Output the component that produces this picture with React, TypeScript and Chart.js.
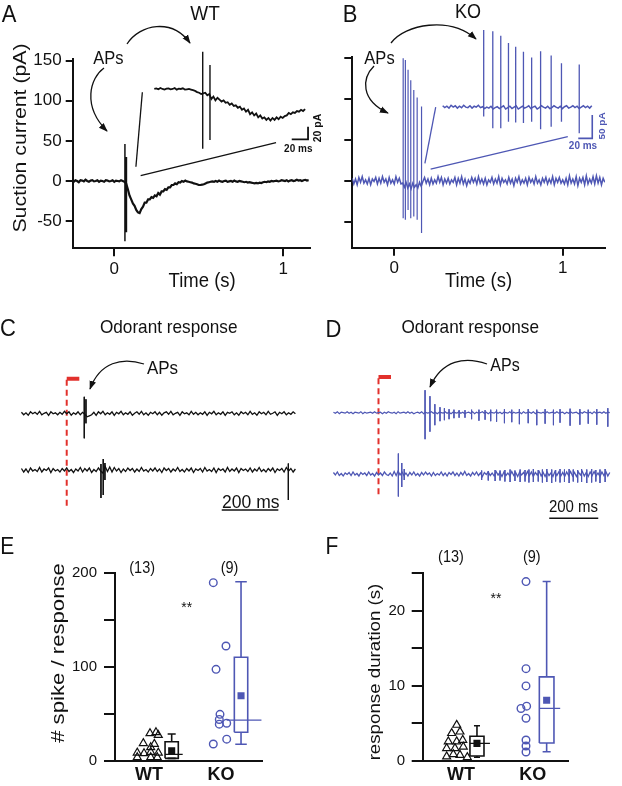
import React, { useEffect, useRef } from 'react';
import { Chart, registerables } from 'chart.js';

Chart.register(...registerables);

const FONT = '"Liberation Sans", Arial, Helvetica, sans-serif';
Chart.defaults.font.family = FONT;
Chart.defaults.color = '#111111';

const INK = '#111111';
const BLUE = '#4e57b4';
const RED = '#e2312c';

// ================= Panel A : WT suction current =================
const aT0 = -0.25;
const aDt = 0.01; // s
const aTrace = [
  0.5, -1, 1, 0, -1.5, 1, 0.5, -0.5, 1.5, 0, -1, 0.5, 1, -0.5, 0, 1, -1, 0.5, 0, -1, 1, 0.5, -0.5, 0, 1, -1, 0.5, 0, -0.5, 1, 0,
  -1, -3, -10, -18, -23, -28, -31, -36, -39, -40, -35, -32, -27, -27, -23, -23, -20, -21, -18, -19,
  -15, -17, -13, -13, -10, -11, -8, -8, -5, -5, -3, -4, -1.5, -2, 0, -1, 0.5, -0.5, -1, -1.5,
  -2, -3, -3.5, -4, -5, -5, -4.5, -4, -3, -2, -1.5, -1, -0.5, -1,
  0, -1, 0.5, -0.5, -1, 0, 0.5, -1, -0.5, 0, -1, 0.5, -0.5, -1, 0, -0.5, -1, -1.5, -1, -2, -1.5,
  -2, -2.5, -3, -2.5, -3, -2, -2.5, -1.5, -1, -1.5, -0.5, -1, 0, -0.5, 0,
  0.5, -0.5, 0, 1, 0.5, 0, 1, -0.5, 0.5, 1, 0, 0.5, 1.5, 0.5, 1, 0, 1, 1.5, 0.5, 1,
];
const aSpikeT = [0.063, 0.072];
const aSpikeUp = [46, 30];
const aSpikeDown = [-75, -64];
const aXTicks = [0, 1];
const aYTicks = [-50, 0, 50, 100, 150];

// inset (ms, pA)
const aInT0 = 0;
const aInDt = 2.5;
const aInset = [
  0, 1, -0.5, 1.5, 0, -1, 0.5, 1, -0.5, 0, 1.5, -1, 0.5, 0, 1, -1, -0.5, 0, -1,
  -2, -3, -5, -6, -8,
  -7, -6, -10, -8, -16, -12, -18, -14, -17,
  -20, -18, -22, -21, -25, -23, -27, -26,
  -30, -28, -33, -31, -36, -33, -40, -37,
  -42, -39, -45, -42, -47, -45, -49, -46,
  -50, -46, -49, -45, -48, -44, -46, -43,
  -42, -38, -40, -37, -38, -35, -36, -33, -35, -32,
];
const aInSpikeT = [59.4, 68.3];
const aInSpikeUp = [59, 38];
const aInSpikeDown = [-95, -81];
const aScaleBarT = [168.6, 188.6, 188.6];
const aScaleBarV = [-80, -80, -60];
const aZoomLine1T = [0.166, 0.128];
const aZoomLine1V = [110.6, 17.8];
const aZoomLine2T = [0.156, 0.957];
const aZoomLine2V = [6.6, 47.8];

// ================= Panel B : KO suction current =================
const bT0 = -0.25;
const bDt = 0.01;
const bTrace = [
  3, -4, 2, -5, 4, -2, 5, -3, 1, -4, 3, -5, 2, -1, 4, -4, 3, -3, 5, -2,
  2, -5, 4, -3, 1, -4, 5, -2, 3, -4,
  -3, -8, -2, -9, -4, -10, -3, -8, -5, -9, -2, -7, -1,
  4, -3, 2, -5, 3, -4, 1, -3, 5, -2, 4, -5, 2, -3, 3, -4, 1, -2, 4, -5,
  3, -3, 5, -4, 2, -6, 1, -3, 4, -2, 3, -4, 5, -3, 2, -4, 3, -5, 1, -2,
  4, -4, 2, -3, 5, -5, 3, -2, 1, -4, 4, -3, 2, -6, 3, -2, 5, -4, 1, -3,
  3, -5, 4, -2, 2, -4, 5, -3, 1, -5, 3, -2, 4, -4, 2, -3, 5, -5, 3, -2,
  4, -3, 1, -4, 3, -5, 6, -3, 2, -4, 5, -6, 3, -2, 4, -5, 6, -4, 2, -3,
  5, -4, 6, -3, 4, -5, 3, -2,
];
const bSpikeT = [0.053, 0.066, 0.082, 0.098, 0.116, 0.136, 0.162];
const bSpikeUp = [150, 148, 136, 123, 111, 102, 91];
const bSpikeDown = [-46, -48, -36, -46, -44, -48, -64];
const bXTicks = [0, 1];
const bYTicks = [-50, 0, 50, 100, 150];

const bInT0 = 0;
const bInDt = 3;
const bInset = [
  2, -2, 1, -3, 3, -1, 2, -3, 1, -2, 3, -1, -2, 2, -3, 1, -1, 3, -2, 0,
  -4, -1, -3, 1, -5, -2, 0, -4, -1, 2,
  -5, -2, 1, -4, -1, 2, -5, -2, 1, -3,
  -1, 2, -4, -1, 1, -5, -2, 2, -1, -3,
  1, -4, -2, 2, -1, -3, 1, -4, 0, 2,
  -3, -1, 2, -2, 1, -4, -1, 2, -2, 1, -3, 2,
];
const bInSpikeT = [58.6, 71.6, 83, 94, 104.3, 115.4, 127.1, 139.9, 155, 169.7, 195.1];
const bInSpikeUp = [164, 161.5, 151.8, 136.4, 128.5, 117.8, 105.4, 118.8, 109.6, 92.9, 90.4];
const bInSpikeDown = [-21, -46, -46, -32, -34, -35, -32, -48, -43, -32, -57];
const bScaleBarT = [193.7, 213.7, 213.7];
const bScaleBarV = [-67.7, -67.7, -17.7];
const bZoomLine1T = [0.246, 0.182];
const bZoomLine1V = [90, 21.3];
const bZoomLine2T = [0.216, 1.03];
const bZoomLine2V = [14.3, 53.9];

// ================= Panel C : WT odorant responses (ms, a.u.) =================
const cT0 = -160;
const cDt = 8;
const cTrace1 = [
  2, -3, 1, -4, 3, -1, 2, -2, 4, -3, 0, 2, -4, 3, -1, 1, -3, 2, -2, 4,
  -1, 3, -4, 1, -2, 3, -3, 2, -2, -7, -5, -3, 2, -4, 3, -1, 4, -3, 1, -2,
  3, -4, 2, -1, 4, -3, 1, -2, 3, -4, 0, 3, -2, 4, -3, 1, -4, 2, -1, 3,
  -3, 2, -4, 1, 3, -2, 4, -3, 0, 2, -4, 3, -1, 1, -3, 4, -2, 2, -3, 1,
  -2, 3, -4, 2, -1, 4, -3, 1, -2, 3, -4, 2, 0, 3, -3, 1, -4, 3, -1, 2,
  -3, 4, -2, 1, -4, 3, -1, 2, -3, 4, -2, 0, 3, -4, 2, -1, 3, -3, 1, -2, 3, -1,
];
const cTrace2 = [
  3, -4, 2, -5, 4, -2, 1, -3, 5, -4, 2, -1, 4, -5, 3, -2, 1, -4, 3, -2,
  4, -3, 1, -5, 2, -2, 5, -4, 3, -2, 4, -5, 1, -3, 4, -2, -6, 7, -3, 6,
  -4, 5, -2, 3, -5, 2, -3, 4, -1, 3, -4, 2, -3, 5, -2, 1, -4, 3, -2, 4,
  -3, 2, -5, 4, -1, 3, -4, 2, -2, 5, -3, 1, -4, 3, -2, 4, -5, 2, -1, 3,
  -4, 5, -2, 1, -3, 4, -5, 3, -1, 2, -4, 5, -3, 2, -2, 4, -5, 3, -1, 2,
  -3, 4, -4, 2, -2, 5, -3, 1, -4, 3, -2, 4, -5, 2, -1, 3, -4, 5, -2, 3, -4, 2,
];
const c1SpikeT = [62, 68];
const c1SpikeUp = [33, 28];
const c1SpikeDown = [-50, -20];
const c2SpikeT = [121, 129, 135, 783];
const c2SpikeUp = [12, 22, 14, 13];
const c2SpikeDown = [-56, -50, -20, -60];
const cStimBarT = [0, 44.5];
const cStimBarV = [69, 69];
const cStimLineT = [0, 0];
const cStimLineV = [67, -193];
const cScaleT = [547.7, 747.7];
const cScaleV = [-193.4, -193.4];

// ================= Panel D : KO odorant responses =================
const dT0 = -184;
const dDt = 8;
const dTrace1 = [
  1, -1, 2, -2, 1, 0, -1, 2, -1, 1, -2, 1, 0, -1, 2, -2, 1, -1, 0, 1,
  -1, 2, -1, 0, 1, -2, 1, -1, 2, 0, -1, 1, -2, 2, -1, 0, 1, -1, 2, -1,
  1, -2, 0, 1, -1, 2, -2, 1, -1, 0, 2, -1, 1, -2, 1, 0, -1, 2, -1, 1,
  -2, 1, 0, -1, 2, -1, 1, -2, 0, 1, -1, 2, -2, 1, -1, 0, 2, -1, 1, -2,
  1, 0, -1, 2, -1, 1, -2, 1, 0, -1, 2, -2, 1, -1, 0, 1, -2, 2, -1, 0,
  1, -1, 2, -2, 1, 0, -1, 1, -2, 2, -1, 0, 1, -1, 2, -1, 0, 1, -2, 1,
  -1, 2, -1, 0, 1, -2, 1, -1, 2, 0, -1, 1, -2, 2, -1, 0, 1, -1, 2, -1, 1, 0,
];
const dTrace2 = [
  3, -2, 4, -3, 1, -4, 2, -1, 3, -3, 4, -2, 1, -4, 3, -1, 2, -3, 4, -2,
  1, -4, 3, -2, 2, -3, 4, -1, -3, 2, -4, 5, -3, 6, -2, 4, -3, 2, -4, 3,
  -2, 4, -3, 1, -4, 3, -2, 4, -1, 2, -4, 3, -3, 1, -2, 4, -3, 2, -4, 3,
  -1, 4, -3, 2, -4, 3, -2, 5, -3, 1, -4, 3, -2, 4, -3, 2, -5, 3, -1, 4,
  -3, 2, -4, 5, -2, 3, -5, 4, -3, 2, -4, 5, -3, 3, -5, 4, -2, 3, -4, 5,
  -3, 4, -5, 3, -2, 5, -4, 3, -5, 4, -3, 2, -5, 5, -3, 4, -4, 3, -5, 4,
  -3, 5, -4, 3, -5, 4, -2, 5, -4, 3, -5, 4, -3, 5, -4, 2, -5, 4, -3, 5, -4, 3,
];
const d1SpikeT = [190, 210, 230, 251, 269, 288, 308, 329, 353, 380, 410, 435, 458, 482, 514, 544, 575, 611, 646, 680, 714, 741, 782, 822, 856, 891, 936];
const d1SpikeUp = [45, 33, 17, 11, 9, 7, 6, 5, 5, 6, 6, 5, 6, 6, 7, 6, 7, 7, 6, 7, 6, 7, 8, 7, 6, 7, 9];
const d1SpikeDown = [-53, -38, -25, -17, -15, -13, -11, -10, -10, -13, -16, -14, -17, -18, -21, -19, -23, -21, -25, -22, -25, -20, -26, -24, -22, -24, -28];
const d2SpikeT = [81, 95, 105, 421, 448, 476, 496, 516, 537, 557, 578, 598, 614, 632, 652, 669, 687, 707, 723, 741, 759, 778, 795, 813, 829, 850, 870, 887, 904, 925];
const d2SpikeUp = [41, 22, 10, 7, 6, 8, 7, 8, 9, 7, 9, 8, 9, 10, 8, 9, 10, 9, 8, 10, 9, 10, 9, 8, 10, 9, 10, 8, 9, 10];
const d2SpikeDown = [-45, -26, -12, -12, -13, -14, -13, -15, -16, -14, -16, -15, -17, -16, -15, -17, -16, -18, -15, -17, -16, -18, -15, -17, -16, -18, -17, -15, -18, -16];
const dStimBarT = [0, 51];
const dStimBarV = [71.4, 71.4];
const dStimLineT = [0, 0];
const dStimLineV = [69, -168];
const dScaleT = [697, 897];
const dScaleV = [-211.2, -211.2];

// ================= Panel E : spikes per response =================
const groups = ['WT', 'KO'];
const eWtVals = [29.2, 30.3, 27.4, 18.6, 14.3, 17.8, 8.5, 7.9, 9.3, 8.5, 3.6, 3.6, 3.6];
const eWtJit = [0.014, 0.097, 0.129, -0.079, 0.024, 0.074, -0.163, -0.069, 0.024, 0.129, -0.163, 0.024, 0.115];
const eKoVals = [190, 122.4, 97.5, 49.5, 44, 39, 40, 23, 17.8];
const eKoJit = [-0.107, 0.069, -0.069, -0.014, -0.024, -0.024, 0.079, 0.079, -0.107];
const eWtBox = [2.5, 2.5, 6.8, 20.3, 28.5]; // min, q1, median, q3, max
const eWtMean = 10.7;
const eKoBox = [17.5, 30.3, 43.4, 110.4, 191];
const eKoMean = 69.4;
const eBoxX = [1.315, 2.278];
const eYTicks = [0, 50, 100, 150, 200];

// ================= Panel F : response duration =================
const fWtVals = [4.8, 3.7, 3.9, 2.6, 2.6, 2.8, 1.7, 1.7, 1.9, 0.6, 0.9, 0.8, 0.5];
const fWtJit = [-0.06, -0.13, -0.014, -0.177, -0.06, 0.024, -0.2, -0.084, 0.032, -0.2, -0.107, -0.014, 0.088];
const fKoVals = [23.9, 12.3, 10, 7.3, 7, 5.7, 2.8, 2, 1.2];
const fKoJit = [-0.093, -0.093, -0.093, -0.084, -0.163, -0.093, -0.093, -0.093, -0.093];
const fWtBox = [0.5, 0.66, 2.35, 3.3, 4.7];
const fWtMean = 2.35;
const fKoBox = [1.24, 2.4, 7.0, 11.2, 23.9];
const fKoMean = 8.1;
const fBoxX = [1.223, 2.195];
const fYTicks = [0, 5, 10, 15, 20, 25];

// ================= helpers =================
type Pt = { x: number; y: number | null };
const sampled = (t0: number, dt: number, vals: number[]): Pt[] => vals.map((v, i) => ({ x: t0 + i * dt, y: v }));
const spikes = (ts: number[], ups: number[], downs: number[]): Pt[] =>
  ts.flatMap((t, i) => [{ x: t, y: ups[i] }, { x: t, y: downs[i] }, { x: t, y: null }]);
const pairs = (ts: number[], vs: number[]): Pt[] => ts.map((t, i) => ({ x: t, y: vs[i] }));
const cat = (c: number, jit: number[], vals: number[]): Pt[] => vals.map((v, i) => ({ x: c + jit[i], y: v }));

const lineDs = (data: Pt[], color: string, width: number, extra: any = {}) => ({
  data,
  showLine: true,
  borderColor: color,
  backgroundColor: color,
  borderWidth: width,
  pointRadius: 0,
  pointHoverRadius: 0,
  tension: 0,
  ...extra,
});

const hidden = (min: number, max: number) => ({ type: 'linear', display: false, min, max });

function axis(min: number, max: number, tickVals: number[], o: any) {
  return {
    type: 'linear',
    min,
    max,
    afterFit: (s: any) => {
      if (o.horizontal) s.height = o.fit;
      else s.width = o.fit;
    },
    afterBuildTicks: (s: any) => {
      s.ticks = tickVals.map((v) => ({ value: v }));
    },
    ticks: {
      autoSkip: false,
      maxRotation: 0,
      minRotation: 0,
      padding: o.pad,
      color: INK,
      font: { size: o.fontSize, weight: o.bold ? 'bold' : 'normal', family: FONT },
      callback: o.label ?? ((v: number) => String(v)),
    },
    grid: {
      drawOnChartArea: false,
      drawTicks: o.drawTicks !== false,
      tickLength: o.tickLen,
      color: INK,
      lineWidth: 2,
    },
    border: { display: true, color: INK, width: 2 },
  };
}

function baseOptions(padding: any, scales: any) {
  return {
    animation: false,
    responsive: false,
    devicePixelRatio: 1,
    events: [],
    layout: { padding },
    plugins: { legend: { display: false }, tooltip: { enabled: false }, title: { display: false } },
    scales,
  };
}

function boxDs(cx: number, st: number[], mean: number, color: string, hw: number, med: number[], cap: number) {
  const [mn, q1, md, q3, mx] = st;
  const P = (x: number, y: number | null): Pt => ({ x, y });
  return [
    lineDs([P(cx - hw, q1), P(cx - hw, q3), P(cx + hw, q3), P(cx + hw, q1), P(cx - hw, q1)], color, 1.6, { borderJoinStyle: 'miter' }),
    lineDs(
      [P(cx, q3), P(cx, mx), P(cx, null), P(cx - cap, mx), P(cx + cap, mx), P(cx, null), P(cx, q1), P(cx, mn), P(cx, null), P(cx - cap, mn), P(cx + cap, mn)],
      color,
      1.6
    ),
    lineDs([P(cx + med[0], md), P(cx + med[1], md)], color, 1.2),
    { data: [P(cx, mean)], pointStyle: 'rect', pointRadius: 5, pointBackgroundColor: color, pointBorderColor: color, pointBorderWidth: 0, showLine: false },
  ];
}

// ================= chart configs =================
const makeA = () => ({
  type: 'scatter',
  data: {
    datasets: [
      lineDs(spikes(aSpikeT, aSpikeUp, aSpikeDown), INK, 1.5),
      lineDs(sampled(aT0, aDt, aTrace), INK, 2.2),
      lineDs(sampled(aInT0, aInDt, aInset), INK, 1.8, { xAxisID: 'xi', yAxisID: 'yi', clip: false }),
      lineDs(spikes(aInSpikeT, aInSpikeUp, aInSpikeDown), INK, 1.4, { xAxisID: 'xi', yAxisID: 'yi', clip: false }),
      lineDs(pairs(aScaleBarT, aScaleBarV), INK, 1.8, { xAxisID: 'xi', yAxisID: 'yi', clip: false, borderJoinStyle: 'miter' }),
      lineDs(pairs(aZoomLine1T, aZoomLine1V), INK, 1.3),
      lineDs(pairs(aZoomLine2T, aZoomLine2V), INK, 1.3),
    ],
  },
  options: baseOptions({ left: 12.7, top: 59.3, right: 1, bottom: 11.7 }, {
    x: axis(-0.246, 1.158, aXTicks, { horizontal: true, fit: 40, tickLen: 8, pad: 2.5, fontSize: 17 }),
    y: axis(-83.9, 151.7, aYTicks, { fit: 60, tickLen: 7, pad: 4, fontSize: 17 }),
    xi: hidden(-100.1, 191),
    yi: hidden(-252.9, 47.1),
  }),
});

const makeB = () => ({
  type: 'scatter',
  data: {
    datasets: [
      lineDs(spikes(bSpikeT, bSpikeUp, bSpikeDown), BLUE, 1.2),
      lineDs(sampled(bT0, bDt, bTrace), BLUE, 1.5),
      lineDs(sampled(bInT0, bInDt, bInset), BLUE, 1.5, { xAxisID: 'xi', yAxisID: 'yi', clip: false }),
      lineDs(spikes(bInSpikeT, bInSpikeUp, bInSpikeDown), BLUE, 1.3, { xAxisID: 'xi', yAxisID: 'yi', clip: false }),
      lineDs(pairs(bScaleBarT, bScaleBarV), BLUE, 1.6, { xAxisID: 'xi', yAxisID: 'yi', clip: false, borderJoinStyle: 'miter' }),
      lineDs(pairs(bZoomLine1T, bZoomLine1V), BLUE, 1.3),
      lineDs(pairs(bZoomLine2T, bZoomLine2V), BLUE, 1.3),
    ],
  },
  options: baseOptions({ left: 11.3, top: 57.3, right: 17, bottom: 12.3 }, {
    x: axis(-0.249, 1.251, bXTicks, { horizontal: true, fit: 40, tickLen: 8, pad: 2.5, fontSize: 17 }),
    y: axis(-82.1, 151.2, bYTicks, { fit: 30, tickLen: 8, pad: 0, fontSize: 17, label: () => '' }),
    xi: hidden(-129.1, 231.9),
    yi: hidden(-301.9, 105.8),
  }),
});

const makeC = () => ({
  type: 'scatter',
  data: {
    datasets: [
      lineDs(spikes(c1SpikeT, c1SpikeUp, c1SpikeDown), INK, 1),
      lineDs(sampled(cT0, cDt, cTrace1), INK, 1.3),
      lineDs(spikes(c2SpikeT, c2SpikeUp, c2SpikeDown), INK, 1, { yAxisID: 'y2' }),
      lineDs(sampled(cT0, cDt, cTrace2), INK, 1.3, { yAxisID: 'y2' }),
      lineDs(pairs(cStimBarT, cStimBarV), RED, 4),
      lineDs(pairs(cStimLineT, cStimLineV), RED, 2, { borderDash: [6, 4] }),
      lineDs(pairs(cScaleT, cScaleV), INK, 1.5, { clip: false }),
    ],
  },
  options: baseOptions({ left: 18.6, top: 30, right: 12.2, bottom: 0 }, {
    x: hidden(-170, 820),
    y: hidden(-213.4, 86.6),
    y2: hidden(-100, 200),
  }),
});

const makeD = () => ({
  type: 'scatter',
  data: {
    datasets: [
      lineDs(spikes(d1SpikeT, d1SpikeUp, d1SpikeDown), BLUE, 1),
      lineDs(sampled(dT0, dDt, dTrace1), BLUE, 1.2),
      lineDs(spikes(d2SpikeT, d2SpikeUp, d2SpikeDown), BLUE, 1, { yAxisID: 'y2' }),
      lineDs(sampled(dT0, dDt, dTrace2), BLUE, 1.3, { yAxisID: 'y2' }),
      lineDs(pairs(dStimBarT, dStimBarV), RED, 4),
      lineDs(pairs(dStimLineT, dStimLineV), RED, 2, { borderDash: [6, 4] }),
      lineDs(pairs(dScaleT, dScaleV), INK, 1.5, { clip: false }),
    ],
  },
  options: baseOptions({ left: 18.5, top: 25, right: 8.3, bottom: 0 }, {
    x: hidden(-200, 960),
    y: hidden(-214.6, 95.4),
    y2: hidden(-92, 218),
  }),
});

const pointsDs = (data: Pt[], style: string, r: number, color: string, bw: number) => ({
  data,
  pointStyle: style,
  pointRadius: r,
  pointBorderColor: color,
  pointBackgroundColor: 'rgba(255,255,255,0)',
  pointBorderWidth: bw,
  showLine: false,
});

const makeE = () => ({
  type: 'scatter',
  data: {
    datasets: [
      ...boxDs(eBoxX[0], eWtBox, eWtMean, INK, 0.092, [-0.092, 0.153], 0.056),
      ...boxDs(eBoxX[1], eKoBox, eKoMean, BLUE, 0.093, [-0.2, 0.286], 0.08),
      pointsDs(cat(1, eWtJit, eWtVals), 'triangle', 4.6, INK, 1.2),
      pointsDs(cat(2, eKoJit, eKoVals), 'circle', 3.8, BLUE, 1.4),
    ],
  },
  options: baseOptions({ left: 55, top: 43.3, right: 49.3, bottom: 0.3 }, {
    x: axis(0.528, 2.565, [1, 2], { horizontal: true, fit: 25, tickLen: 0, drawTicks: false, pad: 3.5, fontSize: 18, bold: true, label: (v: number) => groups[v - 1] }),
    y: axis(0, 200, eYTicks, { fit: 60, tickLen: 11, pad: 7, fontSize: 15, label: (v: number) => (v % 100 === 0 ? String(v) : '') }),
  }),
});

const makeF = () => ({
  type: 'scatter',
  data: {
    datasets: [
      ...boxDs(fBoxX[0], fWtBox, fWtMean, INK, 0.098, [-0.098, 0.181], 0.042),
      ...boxDs(fBoxX[1], fKoBox, fKoMean, BLUE, 0.102, [-0.103, 0.189], 0.056),
      pointsDs(cat(1, fWtJit, fWtVals), 'triangle', 4.6, INK, 1.2),
      pointsDs(cat(2, fKoJit, fKoVals), 'circle', 3.8, BLUE, 1.4),
    ],
  },
  options: baseOptions({ left: 51.7, top: 43.3, right: 53.7, bottom: 0 }, {
    x: axis(0.466, 2.497, [1, 2], { horizontal: true, fit: 25, tickLen: 0, drawTicks: false, pad: 3.7, fontSize: 18, bold: true, label: (v: number) => groups[v - 1] }),
    y: axis(0, 25, fYTicks, { fit: 60, tickLen: 11, pad: 6.5, fontSize: 15, label: (v: number) => (v % 10 === 0 ? String(v) : '') }),
  }),
});

// ================= text & arrows =================
type Lbl = { t: string; x: number; y: number; s: number; b?: boolean; c?: string; r?: boolean; k?: number };
const texts: Lbl[] = [
  { t: 'A', x: 9, y: 13.5, s: 22 },
  { t: 'WT', x: 205, y: 13, s: 19 },
  { t: 'APs', x: 108.3, y: 58.3, s: 16.5 },
  { t: 'Suction current (pA)', x: 18.5, y: 138, s: 19, r: true, k: 1.12 },
  { t: 'Time (s)', x: 202.2, y: 281, s: 18.5 },
  { t: '20 ms', x: 298.3, y: 148.5, s: 10, b: true },
  { t: '20 pA', x: 318, y: 128, s: 10, b: true, r: true, k: 1.05 },
  { t: 'B', x: 350.2, y: 14.2, s: 22 },
  { t: 'KO', x: 468, y: 10.5, s: 18 },
  { t: 'APs', x: 379.5, y: 58.3, s: 16.5 },
  { t: 'Time (s)', x: 478.5, y: 281, s: 18.5 },
  { t: '50 pA', x: 602, y: 126, s: 9.5, b: true, c: BLUE, r: true, k: 1.05 },
  { t: '20 ms', x: 583, y: 146, s: 10, b: true, c: BLUE },
  { t: 'C', x: 8, y: 328.3, s: 22 },
  { t: 'Odorant response', x: 168.7, y: 326.7, s: 17.2 },
  { t: 'APs', x: 162.5, y: 367.8, s: 17 },
  { t: '200 ms', x: 250.8, y: 502, s: 17.5 },
  { t: 'D', x: 333.5, y: 328.8, s: 22 },
  { t: 'Odorant response', x: 470.2, y: 327, s: 17.2 },
  { t: 'APs', x: 505, y: 364.7, s: 16 },
  { t: '200 ms', x: 573.5, y: 506, s: 15 },
  { t: 'E', x: 7.2, y: 545.8, s: 21 },
  { t: '(13)', x: 142.2, y: 567.5, s: 14.5 },
  { t: '(9)', x: 229.5, y: 567.5, s: 14.5 },
  { t: '**', x: 186.7, y: 607, s: 14 },
  { t: '# spike / response', x: 58.3, y: 653.3, s: 18, r: true, k: 1.23 },
  { t: 'F', x: 331.8, y: 545.5, s: 21 },
  { t: '(13)', x: 451, y: 557, s: 14.5 },
  { t: '(9)', x: 531.8, y: 557, s: 14.5 },
  { t: '**', x: 496, y: 598, s: 14 },
  { t: 'response duration (s)', x: 374.3, y: 671.7, s: 17, r: true, k: 1.1 },
];

const arrowPaths = [
  'M 104 68 C 90 78, 82 106, 107 131',
  'M 127 44 C 140 24, 172 18, 190 43',
  'M 374 66 C 362 78, 360 100, 388 113',
  'M 391 43 C 405 24, 450 16, 476 39',
  'M 144 364 C 122 357, 100 362, 90 389',
  'M 487 364 C 465 356, 442 360, 430 387',
];

function ChartCanvas({ x, y, w, h, make }: { x: number; y: number; w: number; h: number; make: () => any }) {
  const ref = useRef<HTMLCanvasElement | null>(null);
  useEffect(() => {
    if (!ref.current) return;
    const chart = new Chart(ref.current, make());
    return () => chart.destroy();
  }, []);
  return <canvas ref={ref} width={w} height={h} style={{ position: 'absolute', left: x, top: y, width: w, height: h }} />;
}

export default function App() {
  return (
    <div style={{ position: 'absolute', left: 0, top: 0, width: 622, height: 786, background: '#ffffff', overflow: 'hidden', fontFamily: FONT }}>
      <ChartCanvas x={0} y={0} w={311} h={300} make={makeA} />
      <ChartCanvas x={311} y={0} w={311} h={300} make={makeB} />
      <ChartCanvas x={0} y={340} w={311} h={180} make={makeC} />
      <ChartCanvas x={311} y={340} w={311} h={180} make={makeD} />
      <ChartCanvas x={0} y={530} w={311} h={256} make={makeE} />
      <ChartCanvas x={311} y={530} w={311} h={256} make={makeF} />
      <svg width={622} height={786} style={{ position: 'absolute', left: 0, top: 0, pointerEvents: 'none' }}>
        <defs>
          <marker id="ah" viewBox="0 0 10 10" refX="9" refY="5" markerWidth="9" markerHeight="9" markerUnits="userSpaceOnUse" orient="auto">
            <path d="M0,1.3 L10,5 L0,8.7 z" fill={INK} />
          </marker>
        </defs>
        {arrowPaths.map((d, i) => (
          <path key={i} d={d} fill="none" stroke={INK} strokeWidth={1.3} markerEnd="url(#ah)" />
        ))}
      </svg>
      {texts.map((l, i) => (
        <div
          key={i}
          style={{
            position: 'absolute',
            left: l.x,
            top: l.y,
            transform: `translate(-50%, -50%) ${l.r ? 'rotate(-90deg)' : ''} scale(${l.r ? l.k ?? 1 : 1}, ${l.r ? 1 : 1.1})`,
            fontSize: l.s,
            fontWeight: l.b ? 700 : 400,
            color: l.c ?? INK,
            lineHeight: 1,
            whiteSpace: 'nowrap',
            fontFamily: FONT,
          }}
        >
          {l.t}
        </div>
      ))}
    </div>
  );
}
